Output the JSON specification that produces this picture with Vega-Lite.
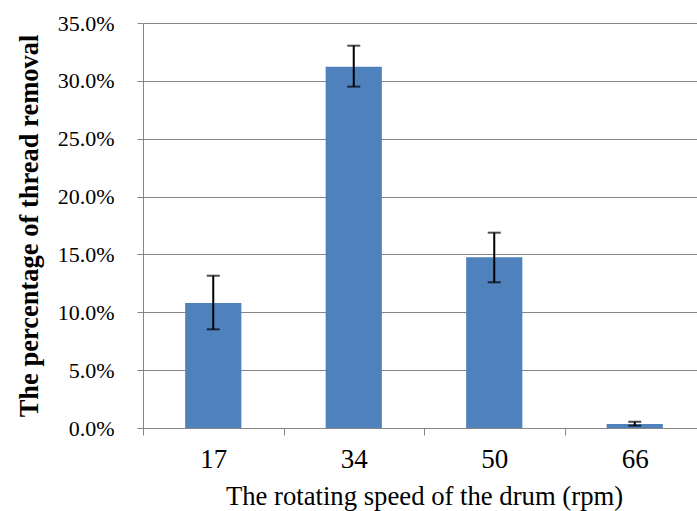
{
  "$schema": "https://vega.github.io/schema/vega-lite/v6.json",
  "autosize": "none",
  "padding": {"left": 143, "top": 23, "right": 0, "bottom": 83},
  "width": 562,
  "height": 405,
  "background": "white",
  "data": {"values": [
    {"speed": "17", "pct": 0.108, "lo": 0.0853, "hi": 0.1316},
    {"speed": "34", "pct": 0.3122, "lo": 0.295, "hi": 0.3304},
    {"speed": "50", "pct": 0.1475, "lo": 0.1259, "hi": 0.1688},
    {"speed": "66", "pct": 0.0035, "lo": 0.002, "hi": 0.0054}
  ]},
  "encoding": {
    "x": {
      "field": "speed", "type": "nominal", "sort": null,
      "scale": {"paddingInner": 0, "paddingOuter": 0},
      "axis": {
        "title": "The rotating speed of the drum (rpm)",
        "labelAngle": 0,
        "tickBand": "extent",
        "titleFont": "Liberation Serif", "titleFontSize": 26.7, "titleFontWeight": "normal", "titleColor": "black",
        "labelFont": "Liberation Serif", "labelFontSize": 27, "labelColor": "black",
        "labelPadding": 11, "titlePadding": 11,
        "domainColor": "#868686", "tickColor": "#868686", "tickSize": 7
      }
    }
  },
  "layer": [
    {
      "mark": {"type": "bar", "color": "#4F81BD", "width": {"band": 0.4}},
      "encoding": {
        "y": {
          "field": "pct", "type": "quantitative",
          "scale": {"domain": [0, 0.35], "nice": false},
          "axis": {
            "title": "The percentage of thread removal",
            "format": ".1%",
            "values": [0, 0.05, 0.1, 0.15, 0.2, 0.25, 0.3, 0.35],
            "grid": true, "gridColor": "#868686", "gridWidth": 1,
            "domainColor": "#868686", "tickColor": "#868686", "tickSize": 6,
            "titleFont": "Liberation Serif", "titleFontSize": 26.5, "titleFontWeight": "bold", "titleColor": "black",
            "labelFont": "Liberation Serif", "labelFontSize": 22, "labelColor": "black",
            "labelPadding": 23, "titlePadding": 14
          }
        }
      }
    },
    {
      "mark": {"type": "rule", "color": "black", "strokeWidth": 2},
      "encoding": {
        "y": {"field": "lo", "type": "quantitative"},
        "y2": {"field": "hi"}
      }
    },
    {
      "mark": {"type": "tick", "color": "black", "size": 13, "thickness": 2},
      "encoding": {"y": {"field": "lo", "type": "quantitative"}}
    },
    {
      "mark": {"type": "tick", "color": "black", "size": 13, "thickness": 2},
      "encoding": {"y": {"field": "hi", "type": "quantitative"}}
    }
  ],
  "config": {"view": {"stroke": null}}
}
